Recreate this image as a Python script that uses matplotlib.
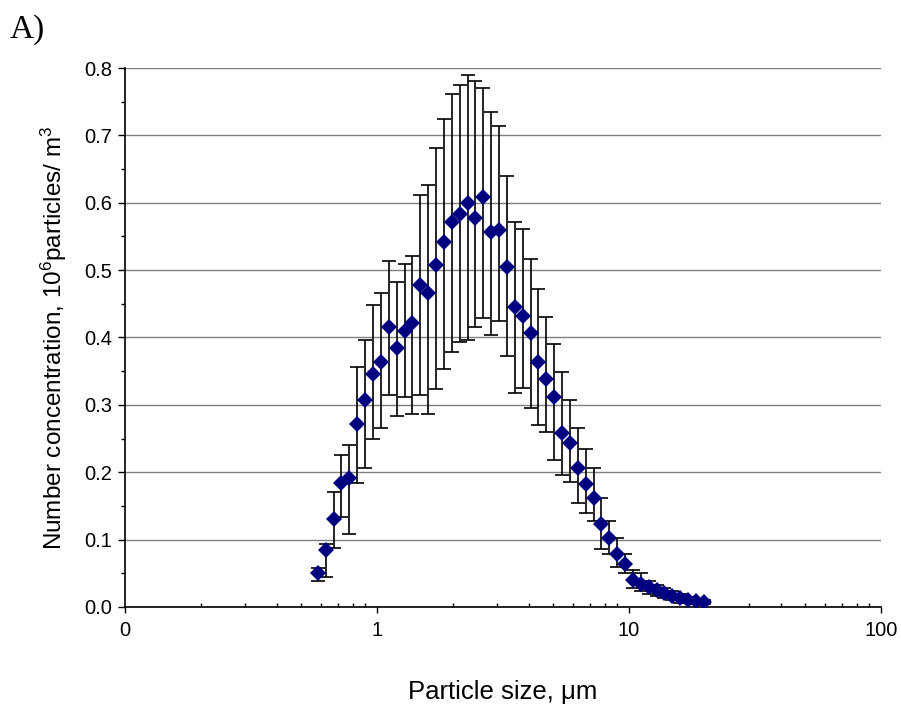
import matplotlib
matplotlib.use("Agg")
import matplotlib.pyplot as plt
from matplotlib.ticker import FixedLocator, FixedFormatter, MultipleLocator, LogLocator, NullFormatter

plt.rcParams["font.family"] = ["Liberation Sans", "DejaVu Sans"]
plt.rcParams["mathtext.fontset"] = "custom"
plt.rcParams["mathtext.rm"] = "Liberation Sans"
plt.rcParams["mathtext.it"] = "Liberation Sans:italic"

# particle size channels (um)
size_um = [0.583, 0.626, 0.673, 0.723, 0.777, 0.835, 0.898, 0.965, 1.037, 1.114,
           1.197, 1.286, 1.382, 1.486, 1.596, 1.715, 1.843, 1.981, 2.129, 2.288,
           2.458, 2.642, 2.839, 3.051, 3.278, 3.523, 3.786, 4.068, 4.371, 4.698,
           5.048, 5.425, 5.829, 6.264, 6.732, 7.234, 7.774, 8.354, 8.977, 9.647,
           10.37, 11.14, 11.97, 12.86, 13.82, 14.86, 15.96, 17.15, 18.43, 19.81]

# mean number concentration, 10^6 particles/m3
conc = [0.050, 0.085, 0.130, 0.184, 0.191, 0.272, 0.307, 0.346, 0.364, 0.415,
        0.385, 0.409, 0.421, 0.478, 0.466, 0.507, 0.542, 0.572, 0.583, 0.599,
        0.578, 0.608, 0.557, 0.560, 0.504, 0.445, 0.432, 0.406, 0.364, 0.338,
        0.311, 0.258, 0.243, 0.207, 0.183, 0.162, 0.123, 0.103, 0.079, 0.064,
        0.040, 0.034, 0.029, 0.025, 0.021, 0.017, 0.013, 0.011, 0.009, 0.008]

# error bar ends
conc_low = [0.038, 0.044, 0.088, 0.133, 0.109, 0.184, 0.207, 0.249, 0.266, 0.314,
            0.284, 0.311, 0.287, 0.314, 0.287, 0.323, 0.353, 0.379, 0.394, 0.397,
            0.415, 0.429, 0.403, 0.424, 0.373, 0.317, 0.325, 0.296, 0.270, 0.259,
            0.218, 0.196, 0.186, 0.154, 0.139, 0.127, 0.086, 0.078, 0.060, 0.050,
            0.028, 0.023, 0.020, 0.016, 0.014, 0.011, 0.006, 0.006, 0.005, 0.005]
conc_high = [0.058, 0.094, 0.171, 0.226, 0.240, 0.356, 0.397, 0.448, 0.466, 0.513,
             0.483, 0.509, 0.521, 0.612, 0.626, 0.682, 0.724, 0.762, 0.775, 0.789,
             0.780, 0.771, 0.735, 0.714, 0.640, 0.572, 0.561, 0.516, 0.472, 0.430,
             0.391, 0.349, 0.307, 0.266, 0.234, 0.207, 0.162, 0.128, 0.103, 0.079,
             0.055, 0.050, 0.038, 0.033, 0.028, 0.023, 0.019, 0.015, 0.012, 0.010]

x_ticks = [0.1, 1, 10, 100]
x_tick_labels = ["0", "1", "10", "100"]

err_lo = [c - l for c, l in zip(conc, conc_low)]
err_hi = [h - c for c, h in zip(conc, conc_high)]

fig = plt.figure(figsize=(9.01, 7.10), dpi=100)
ax = fig.add_axes([0.1387, 0.1451, 0.8391, 0.7591])

data_line, caps, bars = ax.errorbar(size_um, conc, yerr=[err_lo, err_hi], fmt="D",
                                    color="#000080", markersize=8, ecolor="black",
                                    elinewidth=1.2, capsize=5.3, capthick=1.2, zorder=3)
data_line.set_markeredgewidth(0)

ax.set_xscale("log")
ax.set_xlim(0.1, 100)
ax.set_ylim(0, 0.8)

ax.xaxis.set_major_locator(FixedLocator(x_ticks))
ax.xaxis.set_major_formatter(FixedFormatter(x_tick_labels))
ax.xaxis.set_minor_locator(LogLocator(base=10, subs=range(2, 10)))
ax.xaxis.set_minor_formatter(NullFormatter())
ax.yaxis.set_major_locator(MultipleLocator(0.1))
ax.yaxis.set_minor_locator(MultipleLocator(0.05))
ax.yaxis.set_major_formatter(lambda v, p: "%.1f" % v)

ax.tick_params(axis="x", which="major", direction="out", length=4, width=1, labelsize=14.5, pad=6)
ax.tick_params(axis="x", which="minor", direction="in", length=3, width=1)
ax.tick_params(axis="y", which="major", direction="out", length=5, width=1, labelsize=14.5, pad=4)
ax.tick_params(axis="y", which="minor", direction="out", length=3, width=1)

ax.grid(True, axis="y", which="major", color="#808080", linewidth=1)
ax.set_axisbelow(True)
ax.spines["top"].set_visible(False)
ax.spines["right"].set_visible(False)
ax.spines["left"].set_linewidth(1.2)
ax.spines["bottom"].set_linewidth(1.2)

ax.set_xlabel("Particle size, \u03bcm", fontsize=18.5, labelpad=29)
ax.set_ylabel("Number concentration, 10$^6$particles/ m$^3$", fontsize=17.5, labelpad=11)

fig.text(0.011, 0.947, "A)", fontsize=24, family="Liberation Serif")

fig.savefig("out.png", dpi=100)
